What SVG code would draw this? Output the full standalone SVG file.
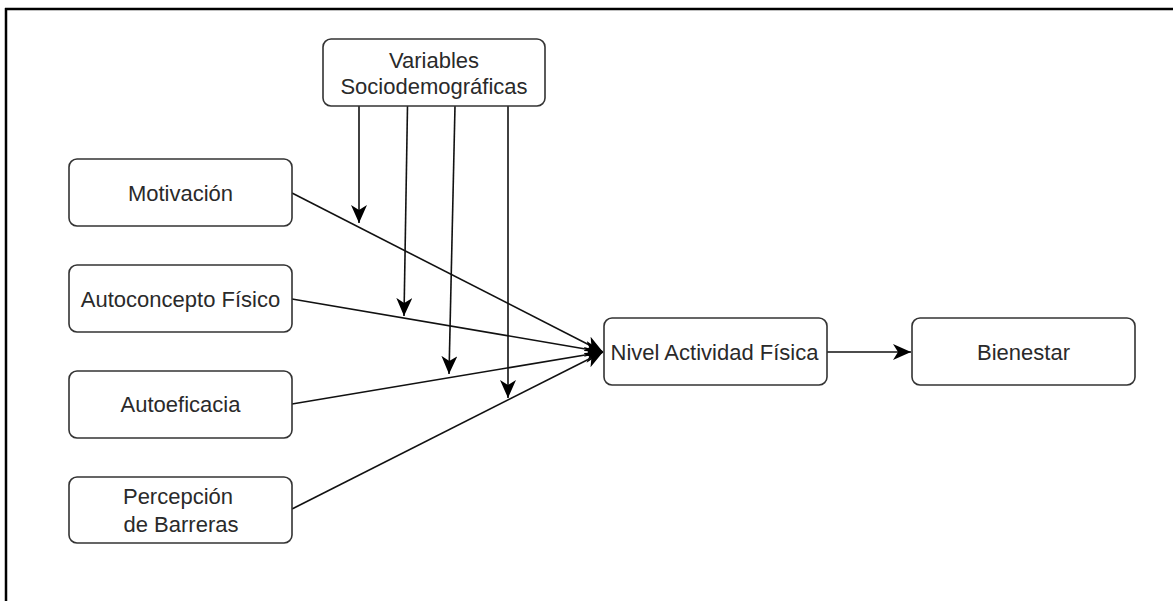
<svg xmlns="http://www.w3.org/2000/svg" width="1173" height="601" viewBox="0 0 1173 601">
<defs>
<style>
.box{fill:#ffffff;stroke:#333333;stroke-width:1.6}
.lbl{font-family:"Liberation Sans",Arial,sans-serif;font-size:22px;fill:#2a2a2a;text-anchor:middle}
.edge{fill:none;stroke:#111111;stroke-width:1.6}
.frame{fill:none;stroke:#000000;stroke-width:2.5}
</style>
<marker id="arr" markerUnits="userSpaceOnUse" viewBox="0 0 18 16" refX="18" refY="8" markerWidth="18" markerHeight="16" orient="auto">
<path d="M0,0 L18,8 L0,16 L5,8 Z" fill="#000000"/>
</marker>
</defs>
<rect width="1173" height="601" fill="#ffffff"/>
<g id="frame">
<line class="frame" x1="5" y1="9" x2="1173" y2="9"/>
<line class="frame" x1="6" y1="8" x2="6" y2="601"/>
</g>
<g id="connectors">
<line class="edge" x1="292" y1="193" x2="603" y2="352" marker-end="url(#arr)"/>
<line class="edge" x1="292" y1="299" x2="603" y2="352" marker-end="url(#arr)"/>
<line class="edge" x1="292" y1="404" x2="603" y2="352" marker-end="url(#arr)"/>
<line class="edge" x1="292" y1="509" x2="603" y2="352" marker-end="url(#arr)"/>
<line class="edge" x1="359" y1="106" x2="359" y2="223" marker-end="url(#arr)"/>
<line class="edge" x1="407.5" y1="106" x2="404" y2="316" marker-end="url(#arr)"/>
<line class="edge" x1="455" y1="106" x2="449" y2="374" marker-end="url(#arr)"/>
<line class="edge" x1="508" y1="106" x2="508" y2="398" marker-end="url(#arr)"/>
<line class="edge" x1="827" y1="352" x2="911" y2="352" marker-end="url(#arr)"/>
</g>
<g id="node-variables">
<rect class="box" x="323" y="39" width="222" height="67" rx="8"/>
<text class="lbl" x="434" y="68">Variables</text>
<text class="lbl" x="434" y="94">Sociodemográficas</text>
</g>
<g id="node-motivacion">
<rect class="box" x="69" y="159" width="223" height="67" rx="8"/>
<text class="lbl" x="180.5" y="200.5">Motivación</text>
</g>
<g id="node-autoconcepto">
<rect class="box" x="69" y="265" width="223" height="67" rx="8"/>
<text class="lbl" x="180.5" y="307">Autoconcepto Físico</text>
</g>
<g id="node-autoeficacia">
<rect class="box" x="69" y="371" width="223" height="67" rx="8"/>
<text class="lbl" x="180.5" y="412">Autoeficacia</text>
</g>
<g id="node-percepcion">
<rect class="box" x="69" y="477" width="223" height="66" rx="8"/>
<text class="lbl" x="178" y="504">Percepción</text>
<text class="lbl" x="181" y="532">de Barreras</text>
</g>
<g id="node-nivel">
<rect class="box" x="604" y="318" width="223" height="67" rx="8"/>
<text class="lbl" x="714.5" y="360">Nivel Actividad Física</text>
</g>
<g id="node-bienestar">
<rect class="box" x="912" y="318" width="223" height="67" rx="8"/>
<text class="lbl" x="1023.5" y="360">Bienestar</text>
</g>
</svg>
